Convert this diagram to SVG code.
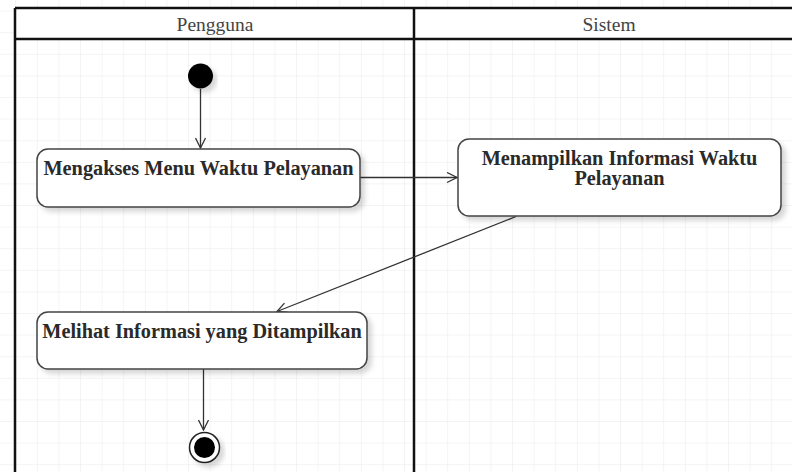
<svg xmlns="http://www.w3.org/2000/svg" width="792" height="472" viewBox="0 0 792 472">
  <defs>
    <!-- light drawing grid -->
    <pattern id="grid" x="15.2" y="10.6" width="21.6" height="21.6" patternUnits="userSpaceOnUse">
      <path d="M0 0V21.6M0 0H21.6" fill="none" stroke="#e9e9e9" stroke-width="1"/>
    </pattern>
    <filter id="shadow" x="-10%" y="-20%" width="130%" height="160%">
      <feDropShadow dx="4" dy="4" stdDeviation="2.5" flood-color="#000" flood-opacity="0.16"/>
    </filter>
    <marker id="open" viewBox="0 0 12 12" refX="11" refY="6" markerWidth="12" markerHeight="12" markerUnits="userSpaceOnUse" orient="auto">
      <path d="M1 1L11 6L1 11" fill="none" stroke="#333" stroke-width="1.3"/>
    </marker>
  </defs>
  <style>
    .lane { fill: none; stroke: #111; stroke-width: 2.5; }
    .title { font-family: "Liberation Serif", "Times New Roman", serif; font-size: 19.5px; fill: #444; text-anchor: middle; }
    .act rect { fill: #fff; stroke: #444; stroke-width: 1.5; filter: url(#shadow); }
    .act text { font-family: "Liberation Serif", "Times New Roman", serif; font-weight: bold; font-size: 20.3px; fill: #2a2a2a; text-anchor: middle; }
    .edge { fill: none; stroke: #333; stroke-width: 1.3; marker-end: url(#open); }
  </style>

  <rect width="792" height="472" fill="#fff"/>
  <rect width="792" height="472" fill="url(#grid)"/>

  <!-- swimlanes -->
  <g id="lanes">
    <rect x="15" y="8" width="790" height="31" fill="#fff"/>
    <path class="lane" d="M15 8H792M15 39H792M15 8V472M414 8V472"/>
    <text class="title" x="215" y="31">Pengguna</text>
    <text class="title" x="609" y="31">Sistem</text>
  </g>

  <!-- connectors -->
  <g id="connectors">
    <path class="edge" d="M200.5 89V148"/>
    <path class="edge" d="M360 177.5H457"/>
    <path class="edge" d="M516 216.5L277 311.5"/>
    <path class="edge" d="M203.5 369V430"/>
  </g>

  <g id="start">
    <circle cx="200.5" cy="76" r="12.5" fill="#000" filter="url(#shadow)"/>
  </g>

  <g id="mengakses" class="act">
    <rect x="37" y="149" width="323" height="58" rx="11"/>
    <text x="198.5" y="175">Mengakses Menu Waktu Pelayanan</text>
  </g>

  <g id="menampilkan" class="act">
    <rect x="458" y="139" width="323" height="77" rx="11"/>
    <text x="619.5" y="165">Menampilkan Informasi Waktu</text>
    <text x="619.5" y="185">Pelayanan</text>
  </g>

  <g id="melihat" class="act">
    <rect x="37" y="312" width="330" height="57" rx="11"/>
    <text x="202" y="338">Melihat Informasi yang Ditampilkan</text>
  </g>

  <g id="end">
    <circle cx="204.5" cy="447.5" r="15" fill="#fff" stroke="#222" stroke-width="1.5" filter="url(#shadow)"/>
    <circle cx="204.5" cy="447.5" r="10.5" fill="#000"/>
  </g>
</svg>
